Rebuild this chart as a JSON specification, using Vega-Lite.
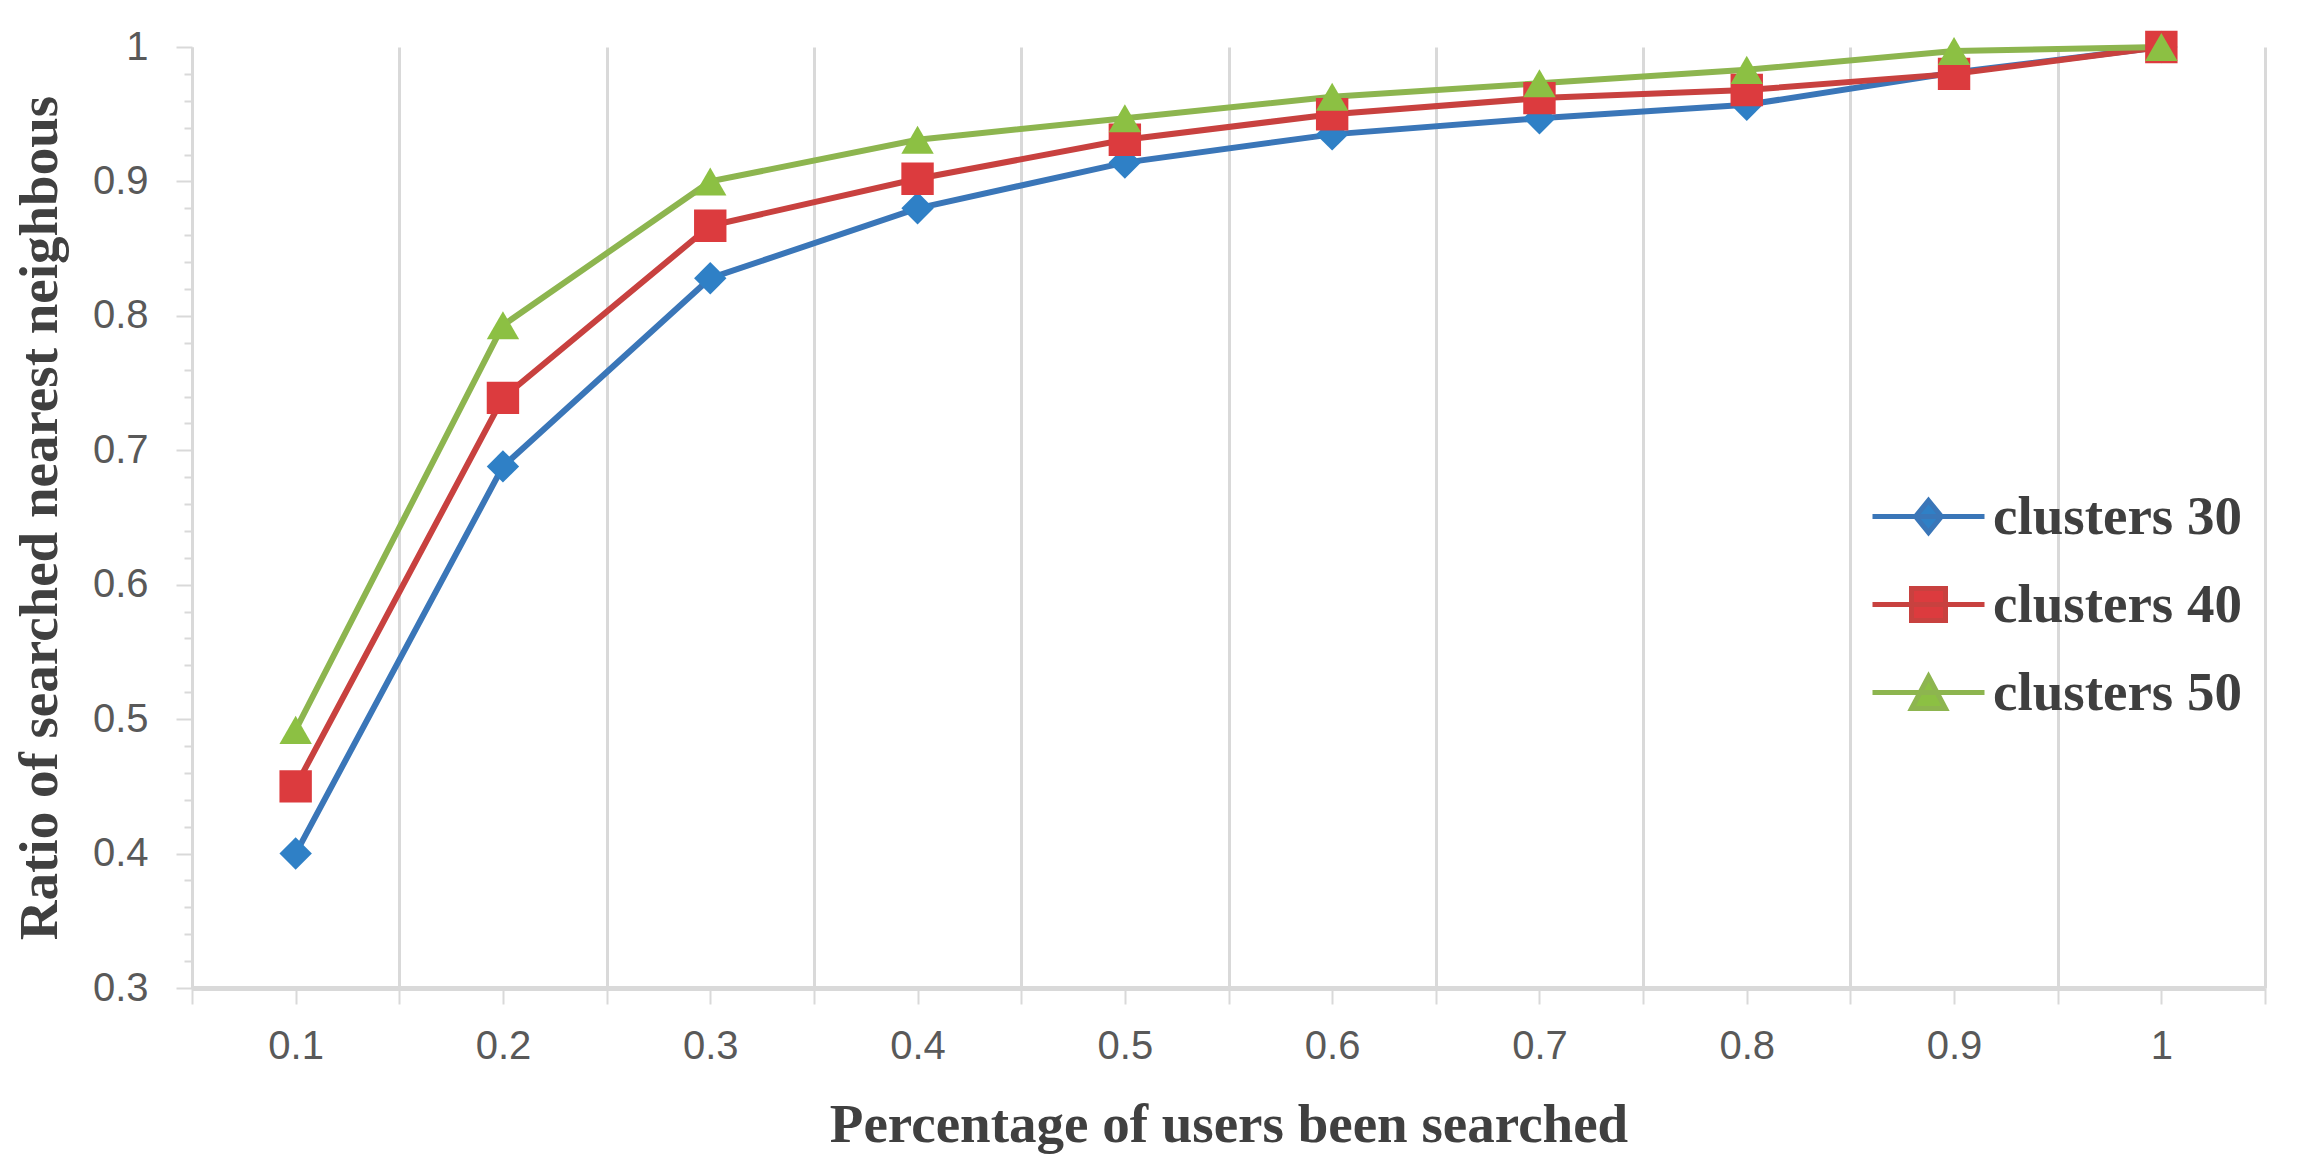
{
  "$schema": "https://vega.github.io/schema/vega-lite/v6.json",
  "autosize": {"type": "none"},
  "width": 2073,
  "height": 941,
  "padding": {"left": 192, "top": 47, "right": 34, "bottom": 176},
  "background": "white",
  "config": {
    "view": {"stroke": null},
    "axis": {
      "labelFont": "Liberation Sans",
      "labelFontSize": 40,
      "labelColor": "#595959",
      "titleFont": "Liberation Serif",
      "titleFontWeight": "bold",
      "titleFontSize": 55,
      "titleColor": "#404040",
      "domainColor": "#d9d9d9",
      "tickColor": "#d9d9d9"
    }
  },
  "data": {
    "values": [
      {"x": 0.1, "y": 0.400, "series": "clusters 30"},
      {"x": 0.2, "y": 0.688, "series": "clusters 30"},
      {"x": 0.3, "y": 0.828, "series": "clusters 30"},
      {"x": 0.4, "y": 0.880, "series": "clusters 30"},
      {"x": 0.5, "y": 0.914, "series": "clusters 30"},
      {"x": 0.6, "y": 0.935, "series": "clusters 30"},
      {"x": 0.7, "y": 0.947, "series": "clusters 30"},
      {"x": 0.8, "y": 0.957, "series": "clusters 30"},
      {"x": 0.9, "y": 0.981, "series": "clusters 30"},
      {"x": 1.0, "y": 1.000, "series": "clusters 30"},
      {"x": 0.1, "y": 0.450, "series": "clusters 40"},
      {"x": 0.2, "y": 0.739, "series": "clusters 40"},
      {"x": 0.3, "y": 0.867, "series": "clusters 40"},
      {"x": 0.4, "y": 0.902, "series": "clusters 40"},
      {"x": 0.5, "y": 0.931, "series": "clusters 40"},
      {"x": 0.6, "y": 0.950, "series": "clusters 40"},
      {"x": 0.7, "y": 0.962, "series": "clusters 40"},
      {"x": 0.8, "y": 0.968, "series": "clusters 40"},
      {"x": 0.9, "y": 0.980, "series": "clusters 40"},
      {"x": 1.0, "y": 1.000, "series": "clusters 40"},
      {"x": 0.1, "y": 0.492, "series": "clusters 50"},
      {"x": 0.2, "y": 0.793, "series": "clusters 50"},
      {"x": 0.3, "y": 0.900, "series": "clusters 50"},
      {"x": 0.4, "y": 0.931, "series": "clusters 50"},
      {"x": 0.5, "y": 0.947, "series": "clusters 50"},
      {"x": 0.6, "y": 0.963, "series": "clusters 50"},
      {"x": 0.7, "y": 0.973, "series": "clusters 50"},
      {"x": 0.8, "y": 0.983, "series": "clusters 50"},
      {"x": 0.9, "y": 0.997, "series": "clusters 50"},
      {"x": 1.0, "y": 1.000, "series": "clusters 50"}
    ]
  },
  "encoding": {
    "x": {
      "field": "x",
      "type": "quantitative",
      "scale": {"domain": [0.05, 1.05], "nice": false, "zero": false},
      "axis": {
        "title": "Percentage of users been searched",
        "values": [0.05, 0.1, 0.15, 0.2, 0.25, 0.3, 0.35, 0.4, 0.45, 0.5, 0.55, 0.6, 0.65, 0.7, 0.75, 0.8, 0.85, 0.9, 0.95, 1.0, 1.05],
        "labelExpr": "round(datum.value*100) % 10 == 5 ? '' : format(datum.value, '.1~f')",
        "labelOverlap": false,
        "labelFlush": false,
        "labelPadding": 22,
        "domainWidth": 5,
        "tickSize": 16,
        "tickWidth": 2,
        "grid": true,
        "gridColor": "#d9d9d9",
        "gridWidth": 3,
        "gridOpacity": {"condition": {"test": "round(datum.value*100) % 10 == 5", "value": 1}, "value": 0},
        "titlePadding": 32
      }
    },
    "y": {
      "field": "y",
      "type": "quantitative",
      "scale": {"domain": [0.3, 1.0], "nice": false, "zero": false},
      "axis": {
        "title": "Ratio of searched nearest neighbous",
        "values": [0.3, 0.32, 0.34, 0.36, 0.38, 0.4, 0.42, 0.44, 0.46, 0.48, 0.5, 0.52, 0.54, 0.56, 0.58, 0.6, 0.62, 0.64, 0.66, 0.68, 0.7, 0.72, 0.74, 0.76, 0.78, 0.8, 0.82, 0.84, 0.86, 0.88, 0.9, 0.92, 0.94, 0.96, 0.98, 1.0],
        "labelExpr": "abs(datum.value*10 - round(datum.value*10)) < 0.01 ? format(datum.value, '.1~f') : ''",
        "labelOverlap": false,
        "labelFlush": false,
        "labelPadding": 28,
        "tickSize": {"condition": {"test": "abs(datum.value*10 - round(datum.value*10)) < 0.01", "value": 16}, "value": 8},
        "tickWidth": 2,
        "domainWidth": 3,
        "grid": false,
        "titlePadding": 24
      }
    }
  },
  "layer": [
    {
      "mark": {"type": "line", "strokeWidth": 6},
      "encoding": {
        "stroke": {
          "field": "series",
          "type": "nominal",
          "scale": {"domain": ["clusters 30", "clusters 40", "clusters 50"], "range": ["#3A76B8", "#C8413F", "#8DB54F"]},
          "legend": {
            "title": null,
            "orient": "none",
            "legendX": 1709,
            "legendY": 442,
            "padding": 0,
            "symbolSize": 1600,
            "symbolStrokeWidth": 5,
            "rowPadding": 32,
            "labelOffset": 37,
            "labelFont": "Liberation Serif",
            "labelFontWeight": "bold",
            "labelFontSize": 55,
            "labelColor": "#3f3f3f",
            "labelLimit": 0,
            "encode": {
              "symbols": {
                "update": {
                  "shape": {"signal": "datum.value == 'clusters 30' ? 'M-2.8,0H2.8M0,-0.8L0.65,0L0,0.8L-0.65,0Z' : datum.value == 'clusters 40' ? 'M-2.8,0H2.8M-0.85,-0.8H0.85V0.8H-0.85Z' : 'M-2.8,0H2.8M0,-0.8L0.85,0.8H-0.85Z'"},
                  "fill": {"signal": "datum.value == 'clusters 30' ? '#2F80C6' : datum.value == 'clusters 40' ? '#DC3B3E' : '#8CC043'"},
                  "strokeWidth": {"value": 5},
                  "opacity": {"value": 1}
                }
              }
            }
          }
        },
        "detail": {"field": "series"}
      }
    },
    {
      "mark": {"type": "point", "filled": true, "size": 1050, "opacity": 1},
      "encoding": {
        "fill": {
          "field": "series",
          "type": "nominal",
          "scale": {"range": ["#2F80C6", "#DC3B3E", "#8CC043"]},
          "legend": null
        },
        "shape": {
          "field": "series",
          "type": "nominal",
          "scale": {"range": ["diamond", "square", "triangle-up"]},
          "legend": null
        }
      }
    }
  ]
}
